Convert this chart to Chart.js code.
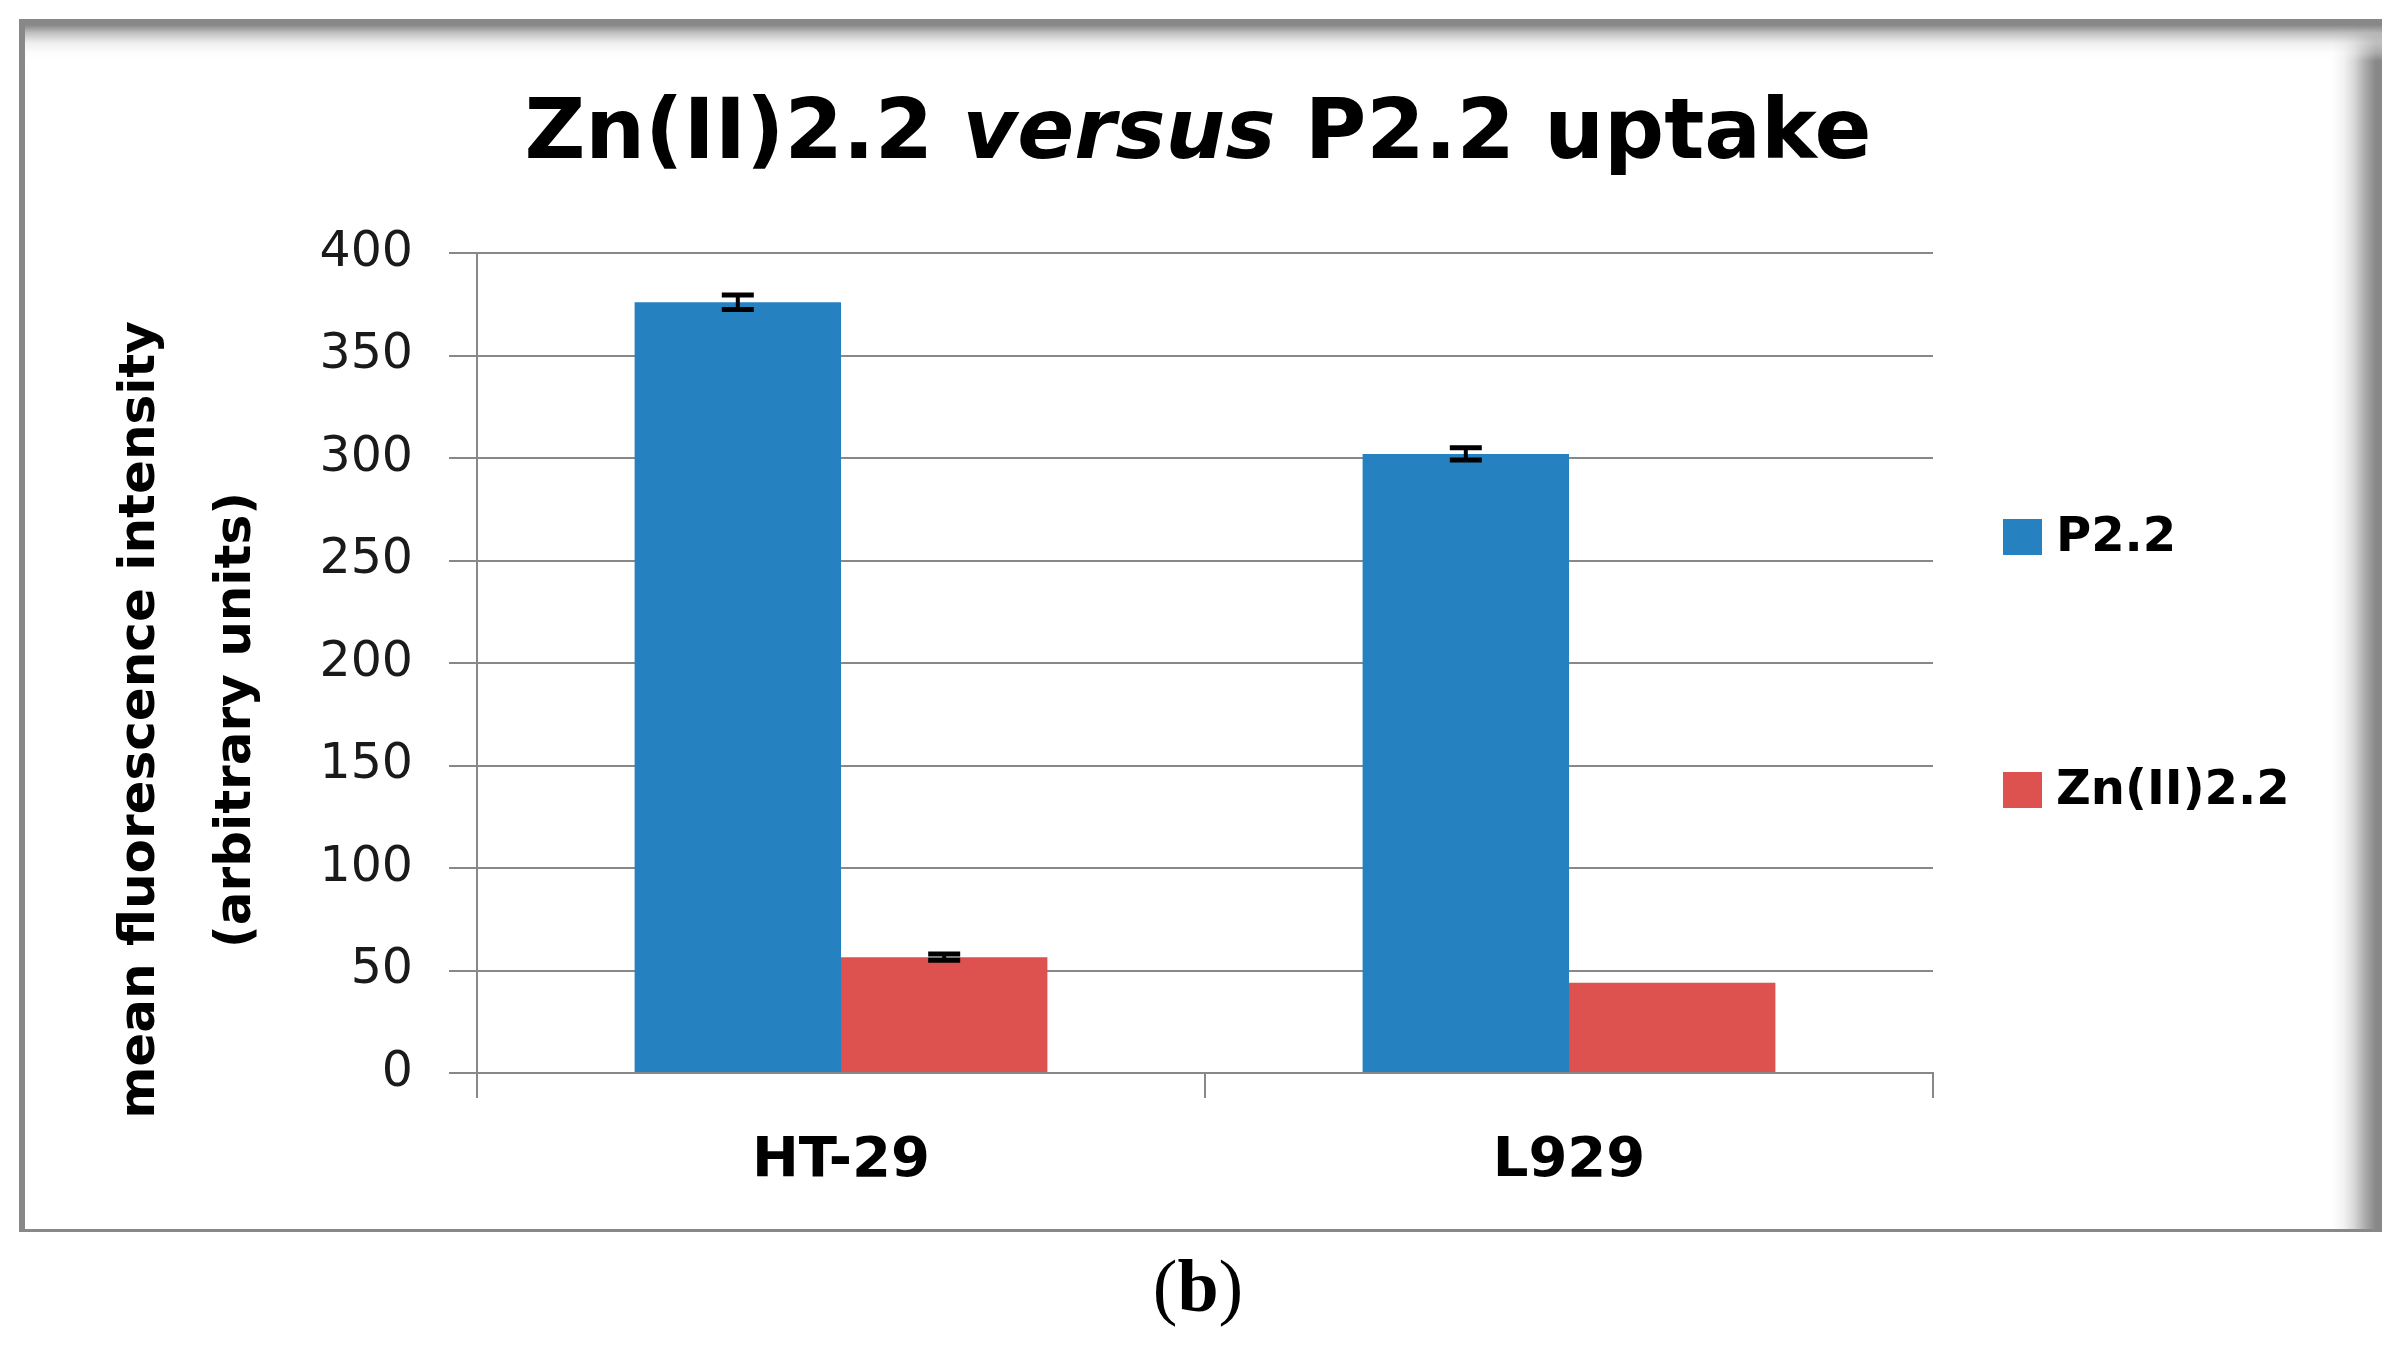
<!DOCTYPE html>
<html>
<head>
<meta charset="utf-8">
<script src="https://cdn.jsdelivr.net/npm/chart.js@4"></script>
<style>
  html, body { margin: 0; padding: 0; background: #fff; }
  body { width: 2405px; height: 1353px; position: relative; overflow: hidden; }
  #frame {
    position: absolute; left: 19px; top: 19px; width: 2363px; height: 1213px;
    box-sizing: border-box;
    border-left: 6px solid #888; border-bottom: 3px solid #888;
    background: #fff;
  }
  #shadowRight {
    position: absolute; right: 0; top: 0; width: 50px; height: 100%;
    background: linear-gradient(to right, rgba(255,255,255,0) 0px, #f2f2f2 12px, #d8d8d8 22px, #b0b0b0 32px, #949494 40px, #888 44px, #888 50px);
  }
  #shadowTop {
    position: absolute; left: 0; top: 0; width: 100%; height: 42px;
    background: linear-gradient(to bottom, #888 0px, #888 6px, rgba(187,187,187,0.9) 14px, rgba(228,228,228,0.6) 24px, rgba(248,248,248,0.3) 34px, rgba(255,255,255,0) 42px);
  }
  #chartBox { position: absolute; left: 0; top: 0; width: 2405px; height: 1353px; }
  #title {
    position: absolute; left: 0; top: 87px; width: 2396px; text-align: center;
    font-family: "DejaVu Sans"; font-weight: bold; font-size: 84px; line-height: 84px; color: #000;
  }
  #panel {
    position: absolute; left: 0; top: 1249px; width: 2396px; text-align: center;
    font-family: "Liberation Serif"; font-size: 74px; line-height: 74px; color: #000;
  }
</style>
</head>
<body>
<div id="frame"><div id="shadowRight"></div><div id="shadowTop"></div></div>
<div id="chartBox"><canvas id="uptakeChart"></canvas></div>
<div id="title">Zn(II)2.2 <i>versus</i> P2.2 uptake</div>
<div id="panel">(<b>b</b>)</div>
<script>
// values
const categories = ["HT-29", "L929"];
const seriesNames = ["P2.2", "Zn(II)2.2"];
const p22Values = [376, 302];
const zn22Values = [56.5, 44];
const p22Errors = [3.5, 3];
const zn22Errors = [1.5, null];
const yAxisTitle = ["mean fluorescence intensity", "(arbitrary units)"];
const yMin = 0, yMax = 400, yStep = 50;

const blue = "#2581c0";
const red = "#dd514e";

Chart.defaults.font.family = "DejaVu Sans";

const errorBars = {
  id: "errorBars",
  afterDatasetsDraw(chart) {
    const ctx = chart.ctx;
    const y = chart.scales.y;
    ctx.save();
    ctx.strokeStyle = "#000";
    chart.data.datasets.forEach((ds, di) => {
      const meta = chart.getDatasetMeta(di);
      ds.errors.forEach((err, i) => {
        if (err == null) return;
        const x = meta.data[i].x;
        const top = y.getPixelForValue(ds.data[i] + err);
        const bot = y.getPixelForValue(ds.data[i] - err);
        ctx.lineWidth = 4;
        ctx.beginPath(); ctx.moveTo(x, top); ctx.lineTo(x, bot); ctx.stroke();
        ctx.lineWidth = 5;
        ctx.beginPath();
        ctx.moveTo(x - 16, top); ctx.lineTo(x + 16, top);
        ctx.moveTo(x - 16, bot); ctx.lineTo(x + 16, bot);
        ctx.stroke();
      });
    });
    ctx.restore();
  }
};

const sideText = {
  id: "sideText",
  afterDraw(chart) {
    const ctx = chart.ctx;
    ctx.save();
    // rotated y-axis title, two lines
    ctx.fillStyle = "#000";
    ctx.font = "bold 50px 'DejaVu Sans'";
    ctx.textAlign = "center";
    ctx.textBaseline = "middle";
    const xs = [141, 237];
    yAxisTitle.forEach((line, i) => {
      ctx.save();
      ctx.translate(xs[i], 720);
      ctx.rotate(-Math.PI / 2);
      ctx.fillText(line, 0, 0);
      ctx.restore();
    });
    // legend on the right
    const ys = [537, 790];
    ctx.font = "bold 48px 'DejaVu Sans'";
    ctx.textAlign = "left";
    chart.data.datasets.forEach((ds, i) => {
      ctx.fillStyle = ds.backgroundColor;
      ctx.fillRect(2003, ys[i] - 18, 39, 36);
      ctx.fillStyle = "#000";
      ctx.fillText(ds.label, 2056, ys[i] + 2);
    });
    ctx.restore();
  }
};

new Chart(document.getElementById("uptakeChart"), {
  type: "bar",
  data: {
    labels: categories,
    datasets: [
      { label: seriesNames[0], data: p22Values, errors: p22Errors, backgroundColor: blue },
      { label: seriesNames[1], data: zn22Values, errors: zn22Errors, backgroundColor: red }
    ]
  },
  options: {
    responsive: true,
    maintainAspectRatio: false,
    devicePixelRatio: 1,
    animation: false,
    layout: { padding: { top: 253, right: 472, bottom: 0, left: 0 } },
    datasets: { bar: { categoryPercentage: 0.567, barPercentage: 1.0 } },
    plugins: { legend: { display: false }, title: { display: false }, tooltip: { enabled: false } },
    scales: {
      x: {
        grid: { drawOnChartArea: false, offset: true, tickLength: 25, color: "#888", lineWidth: 2 },
        border: { display: true, color: "#888", width: 2 },
        ticks: { font: { size: 56, weight: "bold" }, color: "#000", padding: 30 },
        afterFit(scale) { scale.height = 280; }
      },
      y: {
        min: yMin, max: yMax,
        ticks: { stepSize: yStep, font: { size: 49 }, color: "#1a1a1a", padding: 36 },
        grid: { color: "#888", lineWidth: 2, tickLength: 28 },
        border: { display: true, color: "#888", width: 2 },
        afterFit(scale) { scale.width = 477; }
      }
    }
  },
  plugins: [errorBars, sideText]
});
</script>
</body>
</html>
